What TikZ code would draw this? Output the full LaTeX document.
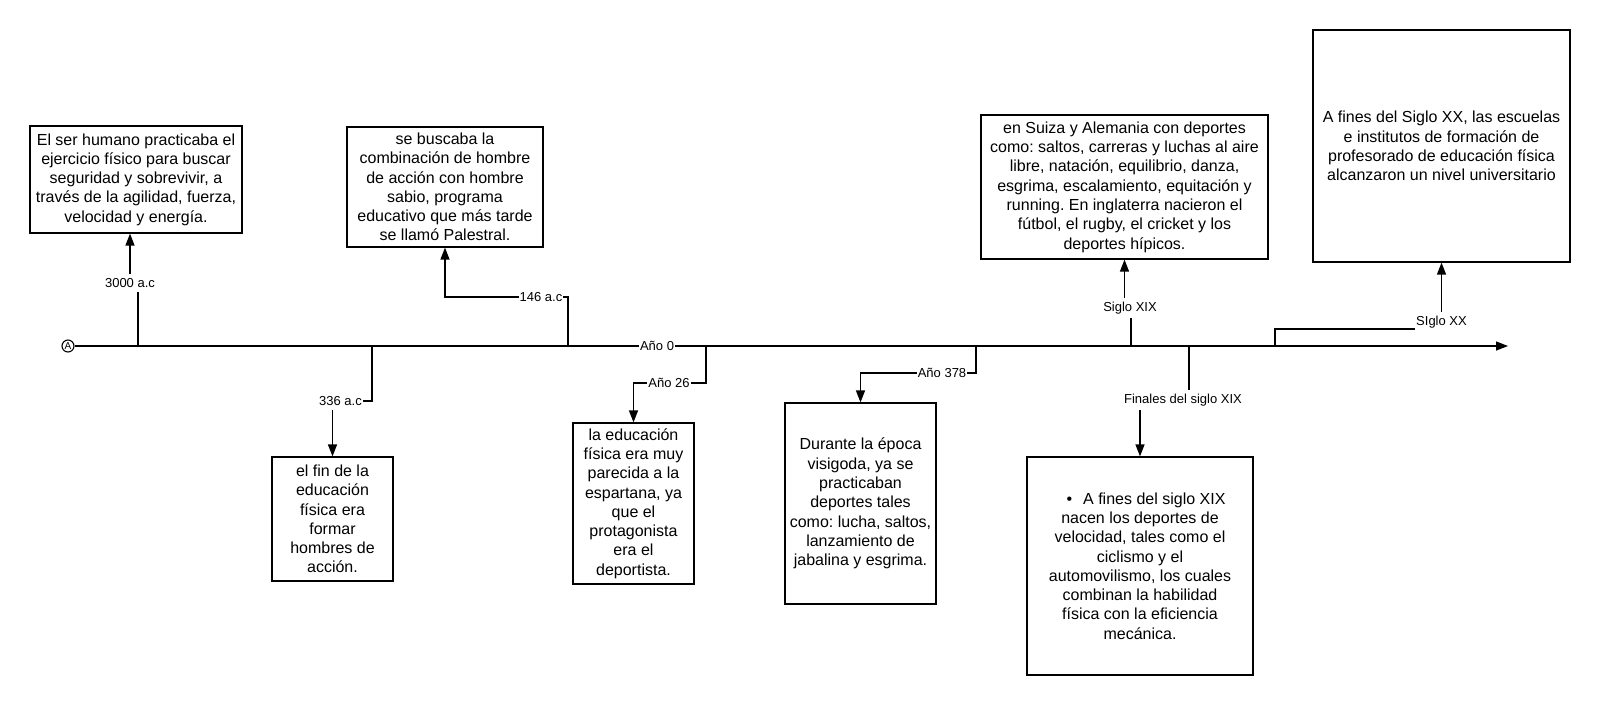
\documentclass[tikz,border=0pt]{standalone}
\usepackage{fontspec}
\setmainfont{Liberation Sans}
\frenchspacing
\usetikzlibrary{arrows.meta,backgrounds}
\tikzset{
  boxnode/.style={draw, line width=1.2pt, inner sep=0pt, align=center,
    font=\fontsize{16}{19.3}\selectfont},
  lbl/.style={fill=white, inner xsep=1pt, inner ysep=4pt,
    font=\fontsize{13}{14}\selectfont},
  conn/.style={line width=1.3pt, -{Triangle[length=12pt,width=9pt]}},
  plain/.style={line width=1.3pt}
}
\begin{document}
\begin{tikzpicture}[x=1pt,y=-1pt]
\useasboundingbox (0,0) rectangle (1600,705);

% boxes
\node[boxnode, minimum width=212pt, minimum height=107pt] (b1) at (136,179.5)
 {El ser humano practicaba el\\ejercicio físico para buscar\\seguridad y sobrevivir, a\\través de la agilidad, fuerza,\\velocidad y energía.};
\node[boxnode, minimum width=196pt, minimum height=120pt] (b2) at (445,187)
 {se buscaba la\\combinación de hombre\\de acción con hombre\\sabio, programa\\educativo que más tarde\\se llamó Palestral.};
\node[boxnode, minimum width=121pt, minimum height=124pt] (b3) at (332.5,519)
 {el fin de la\\educación\\física era\\formar\\hombres de\\acción.};
\node[boxnode, minimum width=121pt, minimum height=161pt] (b4) at (633.5,503.5)
 {la educación\\física era muy\\parecida a la\\espartana, ya\\que el\\protagonista\\era el\\deportista.};
\node[boxnode, minimum width=151pt, minimum height=201pt] (b5) at (860.5,503.5)
 {Durante la época\\visigoda, ya se\\practicaban\\deportes tales\\como: lucha, saltos,\\lanzamiento de\\jabalina y esgrima.};
\node[boxnode, minimum width=287pt, minimum height=144pt] (b6) at (1124.5,187)
 {en Suiza y Alemania con deportes\\como: saltos, carreras y luchas al aire\\libre, natación, equilibrio, danza,\\esgrima, escalamiento, equitación y\\running. En inglaterra nacieron el\\fútbol, el rugby, el cricket y los\\deportes hípicos.};
\node[boxnode, minimum width=257pt, minimum height=232pt] (b7) at (1441.5,146)
 {A fines del Siglo XX, las escuelas\\e institutos de formación de\\profesorado de educación física\\alcanzaron un nivel universitario};
\node[boxnode, minimum width=226pt, minimum height=218pt] (b8) at (1140,566)
 {\hspace{12pt}•\hspace{11pt}A fines del siglo XIX\\nacen los deportes de\\velocidad, tales como el\\ciclismo y el\\automovilismo, los cuales\\combinan la habilidad\\física con la eficiencia\\mecánica.};

% start and end of timeline
\node[circle, draw, line width=1.1pt, inner sep=0pt, minimum size=12pt,
  font=\fontsize{10}{10}\selectfont] (s) at (68,346) {A};
\coordinate (e) at (1508,346);

% tick points
\coordinate (t1) at (138,346);
\coordinate (t2) at (568,346);
\coordinate (t3) at (372,346);
\coordinate (t5) at (706,346);
\coordinate (t6) at (976,346);
\coordinate (t7) at (1131,346);
\coordinate (t8) at (1189,346);
\coordinate (t9) at (1275,346);
\coordinate (h9) at (1275,329);

% labels
\node[lbl] (l1) at (130,283) {3000 a.c};
\node[lbl] (l2) at (541,297) {146 a.c};
\node[lbl] (l3) at (340.5,401) {336 a.c};
\node[lbl] (l4) at (657,346) {Año 0};
\node[lbl] (l5) at (669,383) {Año 26};
\node[lbl] (l6) at (942,373) {Año 378};
\node[lbl] (l7) at (1130,308) {Siglo XIX};
\node[lbl] (l8) at (1183,400) {Finales del siglo XIX};
\node[lbl] (l9) at (1441.5,322) {SIglo XX};

\begin{pgfonlayer}{background}
\draw[conn] (s.east) -- (e);
\draw[conn] (t1) -- (t1 |- l1) -- (l1.center) -- (l1 |- b1.south);
\draw[conn] (t2) |- (b2.south |- l2) -- (b2.south);
\draw[conn] (t3) |- (b3.north |- l3) -- (b3.north);
\draw[conn] (t5) |- (b4.north |- l5) -- (b4.north);
\draw[conn] (t6) |- (b5.north |- l6) -- (b5.north);
\draw[conn] (t7) -- (t7 |- l7) -- (b6.south |- l7) -- (b6.south);
\draw[conn] (t8) -- (t8 |- l8) -- (b8.north |- l8) -- (b8.north);
\draw[conn] (t9) -- (h9) -- (b7.south |- h9) -- (b7.south);
\end{pgfonlayer}
\end{tikzpicture}
\end{document}
